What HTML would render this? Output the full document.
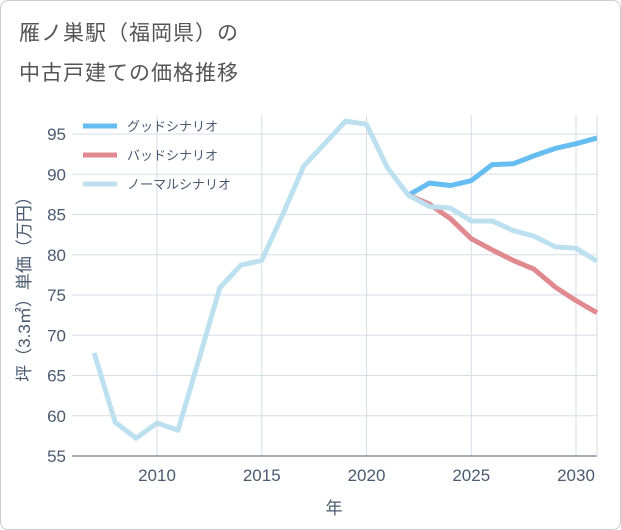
<!DOCTYPE html>
<html><head><meta charset="utf-8"><style>
body{margin:0;background:#fff;font-family:"Liberation Sans","Noto Sans CJK JP",sans-serif}
#wrap{position:relative;width:619px;height:528px;border:1px solid #ccc;border-radius:8px;overflow:hidden}
.title{position:absolute;left:18px;font-size:21px;color:#555;letter-spacing:1px}
</style></head><body>
<div id="wrap">
<div class="title" style="top:16px">雁ノ巣駅（福岡県）の</div>
<div class="title" style="top:56px">中古戸建ての価格推移</div>
<svg id="chart" width="621" height="530" style="position:absolute;left:-1px;top:-1px"></svg>
</div>
<script>
const years=[2007,2008,2009,2010,2011,2012,2013,2014,2015,2016,2017,2018,2019,2020,2021,2022,2023,2024,2025,2026,2027,2028,2029,2030,2031];
const normalVals=[67.8,59.2,57.2,59.1,58.2,67,75.9,78.7,79.3,85,91,93.8,96.6,96.2,90.8,87.4,86,85.8,84.2,84.2,83,82.3,81,80.8,79.2];
const goodYears=[2022,2023,2024,2025,2026,2027,2028,2029,2030,2031];
const goodVals=[87.4,88.9,88.6,89.2,91.2,91.3,92.3,93.2,93.8,94.5];
const badVals=[87.4,86.3,84.5,82,80.6,79.3,78.2,76,74.3,72.8];
const yTicks=[55,60,65,70,75,80,85,90,95];
const xTicks=[2010,2015,2020,2025,2030];
const NS="http://www.w3.org/2000/svg";
const svg=document.getElementById('chart');
const L=72,R=597,T=115,B=456;
const x=v=>157+(v-2010)*20.95;
const y=v=>456-(v-55)*8.05;
function el(t,a){const e=document.createElementNS(NS,t);for(const k in a)e.setAttribute(k,a[k]);svg.appendChild(e);return e;}
yTicks.forEach(v=>{const g=el('line',{x1:L,x2:R,y1:y(v),y2:y(v),stroke:'#d5dee6','stroke-width':1});

const t=el('text',{x:66,y:y(v)+6,'text-anchor':'end','font-size':17,fill:'#4a5a70'});t.textContent=v;
});
xTicks.forEach(v=>{const g=el('line',{x1:x(v),x2:x(v),y1:T,y2:B,stroke:'#d5dee6','stroke-width':1});

const t=el('text',{x:x(v),y:481,'text-anchor':'middle','font-size':17,fill:'#4a5a70'});t.textContent=v;
});
const ax=el('line',{x1:L,x2:R,y1:B,y2:B,stroke:'#4a5a70','stroke-width':1});

const ax2=el('line',{x1:R,x2:R,y1:T,y2:B,stroke:'#d5dee6','stroke-width':1});

function line(xs,vs,c,n){const p=el('polyline',{points:xs.map((a,i)=>x(a)+','+y(vs[i])).join(' '),fill:'none',stroke:c,'stroke-width':5,'stroke-linejoin':'round'});
}
line(goodYears,goodVals,'#66bdf2','good-scenario-line');
line(goodYears,badVals,'#e08a90','bad-scenario-line');
line(years,normalVals,'#bde0ef','normal-scenario-line');
const leg=[['グッドシナリオ','#66bdf2'],['バッドシナリオ','#e08a90'],['ノーマルシナリオ','#bde0ef']];
leg.forEach((l,i)=>{const yy=126+i*29;
const s=el('line',{x1:83,x2:117,y1:yy,y2:yy,stroke:l[1],'stroke-width':5});

const t=el('text',{x:127,y:yy+5,'font-size':13,fill:'#4a5a70'});t.textContent=l[0];
});
const xt=el('text',{x:334,y:514,'text-anchor':'middle','font-size':17,fill:'#4a5a70'});xt.textContent='年';

const yt=el('text',{x:0,y:0,'text-anchor':'middle','font-size':17,fill:'#4a5a70',transform:'translate(30,285) rotate(-90)'});yt.textContent='坪（3.3㎡）単価（万円）';

</script>
</body></html>
